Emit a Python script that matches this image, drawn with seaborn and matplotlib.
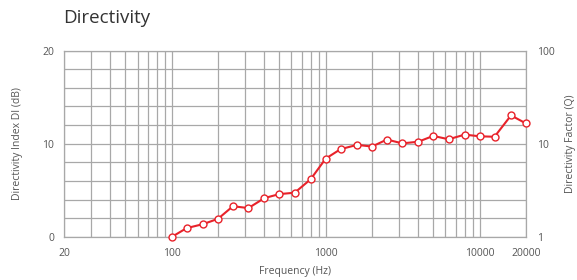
import numpy as np
import pandas as pd
import matplotlib
matplotlib.use("Agg")
import matplotlib.pyplot as plt
import seaborn as sns
from matplotlib.ticker import FixedLocator, NullFormatter, LogLocator

freq = [100, 125, 160, 200, 250, 315, 400, 500, 630, 800, 1000, 1250,
        1600, 2000, 2500, 3150, 4000, 5000, 6300, 8000, 10000, 12500, 16000, 20000]
di = [0.0, 0.95, 1.38, 1.95, 3.3, 3.1, 4.17, 4.6, 4.75, 6.2, 8.4, 9.42,
      9.88, 9.7, 10.45, 10.04, 10.22, 10.84, 10.48, 10.98, 10.8, 10.75, 13.04, 12.18]
x_ticks = [20, 100, 1000, 10000, 20000]
di_ticks = [0, 10, 20]
q_ticks = [1, 10, 100]

df = pd.DataFrame({"freq": freq, "di": di})

sns.set_style("white")
plt.rcParams["font.family"] = ["Open Sans", "DejaVu Sans"]

text_col = "#555555"
grid_col = "#a8a8a8"
red = "#e8222a"

fig = plt.figure(figsize=(5.77, 2.8), dpi=100)
ax = fig.add_axes([0.111, 0.1536, 0.8005, 0.666])

sns.lineplot(data=df, x="freq", y="di", ax=ax, color=red, linewidth=1.5,
             marker="o", markersize=5, markerfacecolor="white",
             markeredgecolor=red, markeredgewidth=1.0, zorder=5, clip_on=False)

ax.set_xscale("log")
ax.set_xlim(20, 20000)
ax.set_ylim(0, 20)

# grid: log minor lines on x, every 2 dB on y
ax.xaxis.set_major_locator(FixedLocator(x_ticks))
ax.xaxis.set_minor_locator(LogLocator(base=10, subs=np.arange(1, 10)))
ax.xaxis.set_minor_formatter(NullFormatter())
ax.set_xticks(x_ticks)
ax.set_xticklabels([str(t) for t in x_ticks])
ax.set_yticks(di_ticks)
ax.set_yticks(np.arange(0, 21, 2), minor=True)
ax.grid(True, which="both", color=grid_col, linewidth=0.9)
ax.set_axisbelow(True)

for s in ax.spines.values():
    s.set_color(grid_col)
    s.set_linewidth(0.9)

ax.tick_params(axis="both", which="both", length=0, colors=text_col, labelsize=7.5)
ax.tick_params(axis="x", pad=8)
ax.tick_params(axis="y", pad=7)

ax.set_xlabel("Frequency (Hz)", color=text_col, fontsize=7.5, labelpad=5)
ax.set_ylabel("Directivity Index DI (dB)", color=text_col, fontsize=7.5, labelpad=14)

ax2 = ax.twinx()
ax2.set_yscale("log")
ax2.set_ylim(1, 100)
ax2.set_yticks(q_ticks)
ax2.set_yticklabels([str(t) for t in q_ticks])
ax2.yaxis.set_minor_formatter(NullFormatter())
ax2.tick_params(axis="y", which="both", length=0, colors=text_col, labelsize=7.5, pad=8)
ax2.set_ylabel("Directivity Factor (Q)", color=text_col, fontsize=7.5, labelpad=7)
for s in ax2.spines.values():
    s.set_visible(False)

fig.text(0.109, 0.935, "Directivity", fontsize=13.5, color="#333333",
         ha="left", va="center")

fig.savefig("out.png", dpi=100)
